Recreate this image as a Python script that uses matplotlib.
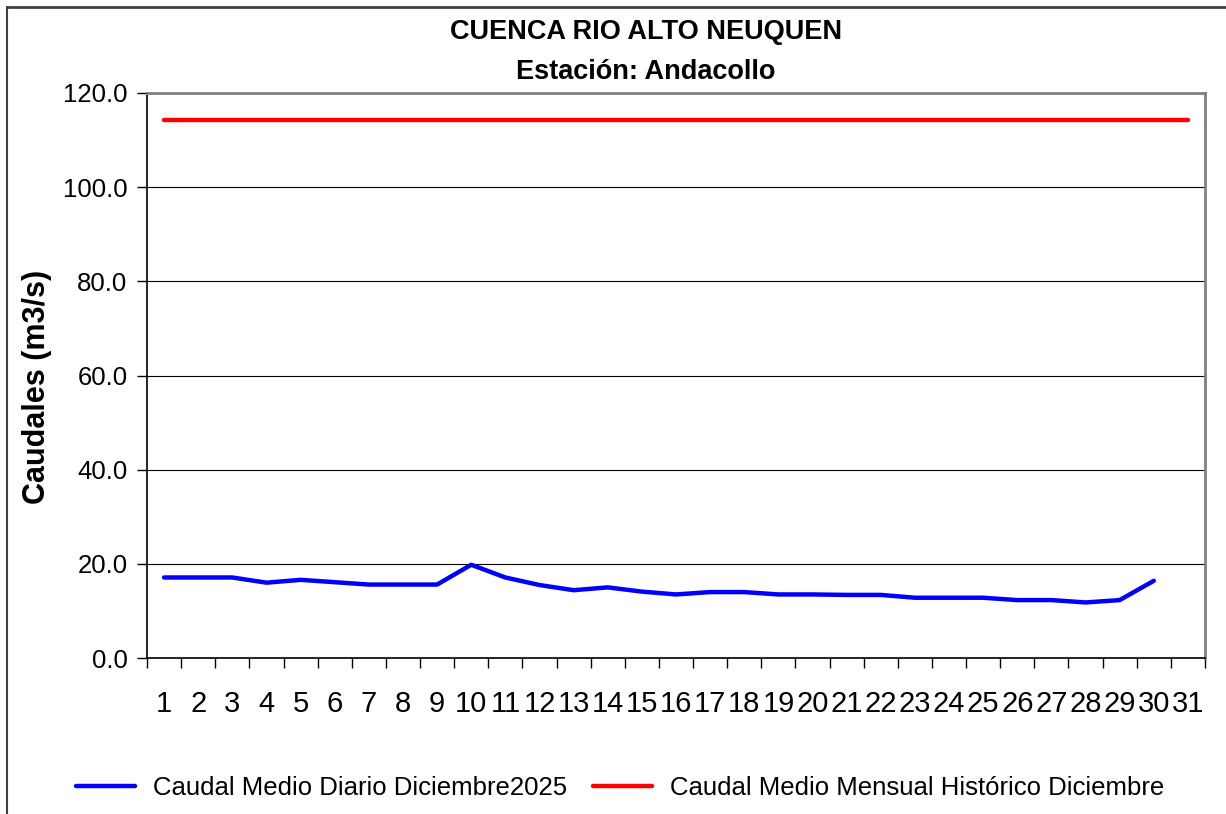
import matplotlib.pyplot as plt
import numpy as np
from matplotlib.lines import Line2D

plt.rcParams["font.family"] = ["Liberation Sans", "DejaVu Sans"]

days = [str(d) for d in range(1, 32)]
caudal_diario = [17.1, 17.1, 17.1, 16.0, 16.6, 16.1, 15.6, 15.6, 15.6, 19.8,
                 17.1, 15.5, 14.4, 15.0, 14.1, 13.5, 14.0, 14.0, 13.5, 13.5,
                 13.4, 13.4, 12.8, 12.8, 12.8, 12.3, 12.3, 11.8, 12.3, 16.4,
                 np.nan]
caudal_historico = [114.3] * 31

W, H = 1226, 814
fig = plt.figure(figsize=(W / 100, H / 100), dpi=100)
ax = fig.add_axes([147 / W, 1 - 658 / H, (1205 - 147) / W, (658 - 93) / H])

x = np.arange(len(days))
ax.plot(x, caudal_diario, color="#0000ff", lw=3.2, solid_joinstyle="round",
        solid_capstyle="round", label="Caudal Medio Diario Diciembre2025")
ax.plot(x, caudal_historico, color="#ff0000", lw=3.2, solid_capstyle="round",
        label="Caudal Medio Mensual Histórico Diciembre")

ax.set_xlim(-0.5, len(days) - 0.5)
ax.set_ylim(0, 120)
yt = np.arange(0, 121, 20)
ax.set_yticks(yt)
ax.set_yticklabels([f"{v:.1f}" for v in yt], fontsize=18.5)
ax.set_xticks(x)
ax.set_xticklabels(days, fontsize=21)
ax.set_xticks(np.arange(-0.5, len(days)), minor=True)
ax.tick_params(axis="x", which="major", length=0, pad=23)
ax.tick_params(axis="x", which="minor", length=7, width=1, color="#000000")
ax.tick_params(axis="y", length=7, width=1, pad=7)
ax.yaxis.grid(True, color="#000000", lw=0.8)
ax.set_axisbelow(True)

for s in ["top", "right"]:
    ax.spines[s].set_color("#808080")
    ax.spines[s].set_linewidth(2)
for s in ["left", "bottom"]:
    ax.spines[s].set_color("#000000")
    ax.spines[s].set_linewidth(1.2)

ax.set_ylabel("Caudales (m3/s)", fontsize=22, fontweight="bold")
ax.yaxis.set_label_coords(-0.09, 0.48)

fig.text(646 / W, 1 - 32 / H, "CUENCA RIO ALTO NEUQUEN", ha="center", va="center",
         fontsize=19.5, fontweight="bold")
fig.text(646 / W, 1 - 72 / H, "Estación: Andacollo", ha="center", va="center",
         fontsize=19.5, fontweight="bold")

fig.legend(loc="center", bbox_to_anchor=(620 / W, 1 - 788 / H), ncol=2,
           frameon=False, fontsize=18.5, handlelength=2.3, handletextpad=0.7,
           columnspacing=1.0)

# outer chart border (top and left only visible)
fig.add_artist(Line2D([7 / W, 1], [1 - 7 / H, 1 - 7 / H], transform=fig.transFigure,
                      color="#404040", lw=2))
fig.add_artist(Line2D([7 / W, 7 / W], [0, 1 - 7 / H], transform=fig.transFigure,
                      color="#404040", lw=1.5))

fig.savefig("out.png", dpi=100)
